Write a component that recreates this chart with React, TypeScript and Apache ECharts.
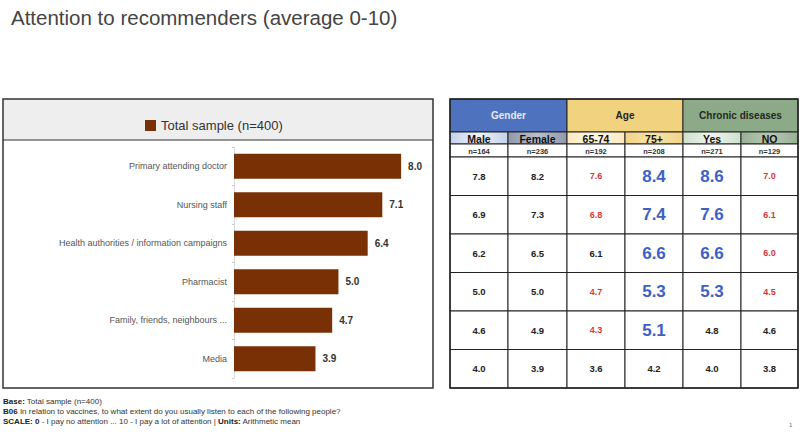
import React, { useEffect, useRef } from "react";
import * as echarts from "echarts";

const TITLE = "Attention to recommenders (average 0-10)";
const SERIES_NAME = "Total sample (n=400)";
const categories = [
  "Primary attending doctor",
  "Nursing staff",
  "Health authorities / information campaigns",
  "Pharmacist",
  "Family, friends, neighbours ...",
  "Media",
];
const totalValues = [8.0, 7.1, 6.4, 5.0, 4.7, 3.9];

const groupHeaders = ["Gender", "Age", "Chronic diseases"];
const subHeaders = ["Male", "Female", "65-74", "75+", "Yes", "NO"];
const sampleSizes = ["n=164", "n=236", "n=192", "n=208", "n=271", "n=129"];
// table columns, each array follows the categories order
const maleValues = [7.8, 6.9, 6.2, 5.0, 4.6, 4.0];
const femaleValues = [8.2, 7.3, 6.5, 5.0, 4.9, 3.9];
const age6574Values = [7.6, 6.8, 6.1, 4.7, 4.3, 3.6];
const age75Values = [8.4, 7.4, 6.6, 5.3, 5.1, 4.2];
const chronicYesValues = [8.6, 7.6, 6.6, 5.3, 4.8, 4.0];
const chronicNoValues = [7.0, 6.1, 6.0, 4.5, 4.6, 3.8];
// significance marks: n = normal, r = significantly lower, b = significantly higher
const maleMarks = ["n", "n", "n", "n", "n", "n"];
const femaleMarks = ["n", "n", "n", "n", "n", "n"];
const age6574Marks = ["r", "r", "n", "r", "r", "n"];
const age75Marks = ["b", "b", "b", "b", "b", "n"];
const chronicYesMarks = ["b", "b", "b", "b", "n", "n"];
const chronicNoMarks = ["r", "r", "r", "r", "n", "n"];

const FONT = "Liberation Sans, Arial, sans-serif";

export default function App() {
  const ref = useRef<HTMLDivElement>(null);
  useEffect(() => {
    if (!ref.current) return;
    const chart = echarts.init(ref.current, undefined, { renderer: "svg" });

    const tableValues = [maleValues, femaleValues, age6574Values, age75Values, chronicYesValues, chronicNoValues];
    const tableMarks = [maleMarks, femaleMarks, age6574Marks, age75Marks, chronicYesMarks, chronicNoMarks];

    const tx = [450, 508, 567, 625, 683, 741, 798];
    const hTop = 99, hBot = 132, sBot = 144, nBot = 157, tBot = 388;
    const rowH = (tBot - nBot) / categories.length;
    const groupFill = ["#4F72BE", "#F1D27F", "#8DAA88"];
    const groupText = ["#e4eaf7", "#222", "#1e2a1c"];
    const subFill = [
      ["#c3d1ea", "#eef2f9"],
      ["#8f99aa", "#b9c0cc"],
      ["#fbe9bf", "#fff8e8"],
      ["#f1d48a", "#f7e2a6"],
      ["#cfe0cc", "#eef5ed"],
      ["#97b094", "#b7c9b4"],
    ];
    const g: any[] = [];
    const stroke = { stroke: "#222", lineWidth: 1 };

    // left panel frame
    g.push({ type: "rect", shape: { x: 3, y: 99, width: 430, height: 41 }, style: { fill: "#eeeeee" }, z: -1 });
    g.push({ type: "rect", shape: { x: 3, y: 99, width: 430, height: 289 }, style: { fill: "none", stroke: "#333", lineWidth: 1.5 } });
    g.push({ type: "line", shape: { x1: 3, y1: 140, x2: 433, y2: 140 }, style: { stroke: "#333", lineWidth: 1.2 } });

    // group headers
    for (let i = 0; i < 3; i++) {
      const x1 = tx[i * 2], x2 = tx[i * 2 + 2];
      g.push({ type: "rect", shape: { x: x1, y: hTop, width: x2 - x1, height: hBot - hTop }, style: { fill: groupFill[i], ...stroke } });
      g.push({
        type: "text", x: (x1 + x2) / 2, y: (hTop + hBot) / 2,
        style: { text: groupHeaders[i], fill: groupText[i], font: `bold 10px ${FONT}`, textAlign: "center", textVerticalAlign: "middle" },
      });
    }
    // sub headers and n row
    for (let c = 0; c < 6; c++) {
      const x1 = tx[c], x2 = tx[c + 1];
      g.push({
        type: "rect", shape: { x: x1, y: hBot, width: x2 - x1, height: sBot - hBot },
        style: {
          fill: new echarts.graphic.LinearGradient(0, 0, 1, 0, [
            { offset: 0, color: subFill[c][0] }, { offset: 0.5, color: subFill[c][1] }, { offset: 1, color: subFill[c][0] },
          ]),
          ...stroke,
        },
      });
      g.push({
        type: "text", x: (x1 + x2) / 2, y: (hBot + sBot) / 2 + 0.5,
        style: { text: subHeaders[c], fill: "#111", font: `bold 10.5px ${FONT}`, textAlign: "center", textVerticalAlign: "middle" },
      });
      g.push({ type: "rect", shape: { x: x1, y: sBot, width: x2 - x1, height: nBot - sBot }, style: { fill: "#fff", ...stroke } });
      g.push({
        type: "text", x: (x1 + x2) / 2, y: (sBot + nBot) / 2 + 0.5,
        style: { text: sampleSizes[c], fill: "#333", font: `bold 7.5px ${FONT}`, textAlign: "center", textVerticalAlign: "middle" },
      });
      for (let r = 0; r < categories.length; r++) {
        const y1 = nBot + r * rowH;
        g.push({ type: "rect", shape: { x: x1, y: y1, width: x2 - x1, height: rowH }, style: { fill: "#fff", ...stroke } });
        const m = tableMarks[c][r];
        const font = m === "b" ? `bold 17px ${FONT}` : m === "r" ? `bold 9px ${FONT}` : `bold 9.5px ${FONT}`;
        const fill = m === "b" ? "#3d60c8" : m === "r" ? "#d8373b" : "#222";
        g.push({
          type: "text", x: (x1 + x2) / 2, y: y1 + rowH / 2,
          style: { text: tableValues[c][r].toFixed(1), fill, font, textAlign: "center", textVerticalAlign: "middle" },
        });
      }
    }
    g.push({ type: "rect", shape: { x: tx[0], y: hTop, width: tx[6] - tx[0], height: tBot - hTop }, style: { fill: "none", stroke: "#222", lineWidth: 1.5 } });

    // footnote
    g.push({
      type: "text", x: 3, y: 396,
      style: {
        text: "{b|Base:} Total sample (n=400)\n{b|B06} In relation to vaccines, to what extent do you usually listen to each of the following people?\n{b|SCALE: 0} - I pay no attention ... 10 - I pay a lot of attention | {b|Units:} Arithmetic mean",
        font: `8px ${FONT}`, fill: "#333", lineHeight: 10,
        rich: { b: { fontWeight: "bold", fontSize: 8, fill: "#222", fontFamily: FONT } },
      },
    });
    g.push({ type: "text", x: 789, y: 422, style: { text: "1", font: `6px ${FONT}`, fill: "#666" } });

    chart.setOption({
      animation: false,
      backgroundColor: "#ffffff",
      title: {
        text: TITLE, left: 6, top: 2,
        textStyle: { fontSize: 20.5, fontWeight: "normal", color: "#444", fontFamily: FONT },
      },
      legend: {
        data: [SERIES_NAME], left: 140, top: 114, itemWidth: 11, itemHeight: 11, icon: "rect",
        textStyle: { fontSize: 13, color: "#333", fontFamily: FONT },
      },
      grid: { left: 234, top: 147, width: 188, height: 231, containLabel: false },
      xAxis: { type: "value", min: 0, max: 9, show: false },
      yAxis: {
        type: "category", data: categories, inverse: true,
        axisLine: { show: true, lineStyle: { color: "#d8d8d8" } },
        axisTick: { show: true, length: 2, lineStyle: { color: "#ccc" } },
        axisLabel: { fontSize: 9, color: "#555", margin: 7, fontFamily: FONT },
      },
      series: [{
        name: SERIES_NAME, type: "bar", data: totalValues, barWidth: 25, itemStyle: { color: "#7a3005" },
        label: {
          show: true, position: "right", distance: 7, formatter: (p: any) => Number(p.value).toFixed(1),
          fontSize: 10, fontWeight: "bold", color: "#333", fontFamily: FONT,
        },
      }],
      graphic: g,
    });
    return () => chart.dispose();
  }, []);
  return <div ref={ref} style={{ position: "fixed", left: 0, top: 0, width: 800, height: 437 }} />;
}
